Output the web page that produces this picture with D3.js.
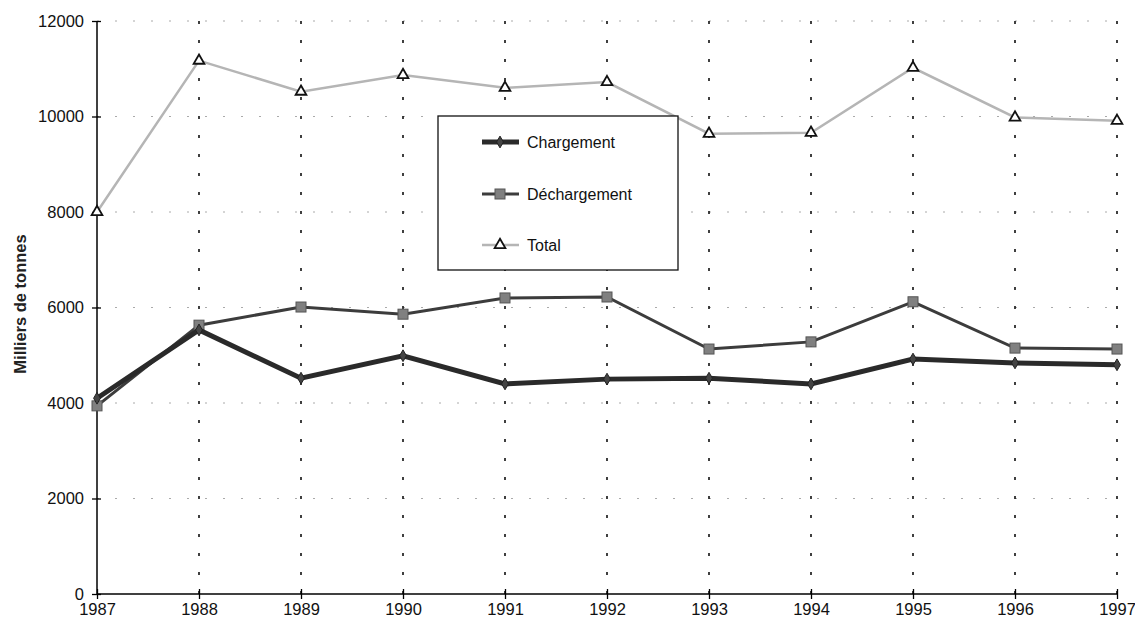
<!DOCTYPE html>
<html><head><meta charset="utf-8">
<script src="https://cdn.jsdelivr.net/npm/d3@7"></script>
<style>body{margin:0;background:#fff;}svg{display:block;font-family:"Liberation Sans",Arial,sans-serif;}
.tick text{font-size:16.5px;font-family:"Liberation Sans",Arial,sans-serif;fill:#111;}</style>
</head><body>
<svg id="c" width="1135" height="625"></svg>
<script>
const years = [1987,1988,1989,1990,1991,1992,1993,1994,1995,1996,1997];
const chargement = [4100,5530,4520,4990,4400,4500,4520,4400,4920,4840,4800];
const dechargement = [3940,5630,6010,5860,6200,6220,5130,5280,6120,5150,5130];
const total = [8000,11170,10520,10870,10600,10720,9640,9660,11020,9980,9910];
const yTicks = [0,2000,4000,6000,8000,10000,12000];
const seriesNames = ["Chargement","Déchargement","Total"];

const svg = d3.select("#c");
const x = d3.scaleLinear().domain([1987,1997]).range([97,1117]);
const y = d3.scaleLinear().domain([0,12000]).range([594,21]);

// horizontal grid
svg.append("g").selectAll("line").data(yTicks.filter(d=>d>0)).join("line")
  .attr("x1",97).attr("x2",1117).attr("y1",d=>y(d)).attr("y2",d=>y(d))
  .attr("stroke","#aaa").attr("stroke-width",1).attr("stroke-dasharray","2,16");
// vertical grid
svg.append("g").selectAll("line").data(years.slice(1)).join("line")
  .attr("x1",d=>x(d)).attr("x2",d=>x(d)).attr("y1",21).attr("y2",594)
  .attr("stroke","#111").attr("stroke-width",1.6).attr("stroke-dasharray","3,16");

// axes
const xAxis = d3.axisBottom(x).tickValues(years).tickFormat(d3.format("d")).tickSize(5).tickPadding(4);
const gx = svg.append("g").attr("transform","translate(0,594)").call(xAxis);
gx.selectAll(".tick line").attr("y1",-5).attr("stroke-width",1.3);
gx.select(".domain").attr("stroke-width",1.5).attr("d","M97,0H1117");

const yAxis = d3.axisLeft(y).tickValues(yTicks).tickFormat(d3.format("d")).tickSize(5).tickPadding(8);
const gy = svg.append("g").attr("transform","translate(97,0)").call(yAxis);
gy.selectAll(".tick line").attr("x1",4).attr("stroke-width",1.3);
gy.select(".domain").attr("stroke-width",1.5).attr("d","M0,21V594");

svg.append("text").attr("transform","translate(20,304) rotate(-90)")
  .attr("text-anchor","middle").attr("dy","0.35em").attr("font-size",16.5).attr("font-weight","bold").attr("fill","#222")
  .text("Milliers de tonnes");

const line = d3.line().x((d,i)=>x(years[i])).y(d=>y(d));

// Total
svg.append("path").datum(total).attr("d",line).attr("fill","none").attr("stroke","#b5b5b5").attr("stroke-width",2.5);
const tri = d3.symbol().type(d3.symbolTriangle).size(50);
svg.append("g").selectAll("path").data(total).join("path")
  .attr("d",tri).attr("transform",(d,i)=>`translate(${x(years[i])},${y(d)})`)
  .attr("fill","#fff").attr("stroke","#111").attr("stroke-width",1.8);

// Déchargement
svg.append("path").datum(dechargement).attr("d",line).attr("fill","none").attr("stroke","#3c3c3c").attr("stroke-width",3);
svg.append("g").selectAll("rect").data(dechargement).join("rect")
  .attr("x",(d,i)=>x(years[i])-5).attr("y",d=>y(d)-5).attr("width",10).attr("height",10)
  .attr("fill","#808080").attr("stroke","#555").attr("stroke-width",1);

// Chargement
svg.append("path").datum(chargement).attr("d",line).attr("fill","none").attr("stroke","#2a2a2a").attr("stroke-width",5);
const dia = d3.symbol().type(d3.symbolDiamond).size(40);
svg.append("g").selectAll("path").data(chargement).join("path")
  .attr("d",dia).attr("transform",(d,i)=>`translate(${x(years[i])},${y(d)})`)
  .attr("fill","#444").attr("stroke","#222").attr("stroke-width",1);

// Legend
const lg = svg.append("g");
lg.append("rect").attr("x",438).attr("y",116).attr("width",240).attr("height",154)
  .attr("fill","#fff").attr("stroke","#111").attr("stroke-width",1.3);
const rows = [142,194,245];
lg.append("line").attr("x1",482).attr("x2",519).attr("y1",rows[0]).attr("y2",rows[0]).attr("stroke","#2a2a2a").attr("stroke-width",5);
lg.append("path").attr("d",dia).attr("transform",`translate(500,${rows[0]})`).attr("fill","#444").attr("stroke","#222");
lg.append("line").attr("x1",482).attr("x2",519).attr("y1",rows[1]).attr("y2",rows[1]).attr("stroke","#3c3c3c").attr("stroke-width",3);
lg.append("rect").attr("x",495).attr("y",rows[1]-5).attr("width",10).attr("height",10).attr("fill","#808080").attr("stroke","#555");
lg.append("line").attr("x1",482).attr("x2",519).attr("y1",rows[2]).attr("y2",rows[2]).attr("stroke","#b5b5b5").attr("stroke-width",2.5);
lg.append("path").attr("d",tri).attr("transform",`translate(500,${rows[2]})`).attr("fill","#fff").attr("stroke","#111").attr("stroke-width",1.8);
lg.selectAll("text.l").data(seriesNames).join("text").attr("class","l")
  .attr("x",527).attr("y",(d,i)=>rows[i]).attr("dy","0.35em")
  .attr("font-size",16).attr("fill","#111").text(d=>d);
</script>
</body></html>
